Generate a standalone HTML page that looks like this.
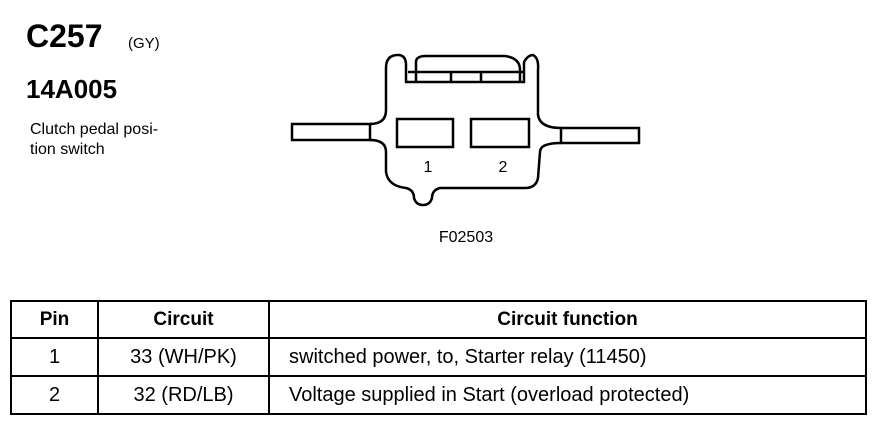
<!DOCTYPE html>
<html><head><style>
body{margin:0;background:#fff;width:872px;height:432px;overflow:hidden;position:relative;font-family:"Liberation Sans",Arial,sans-serif;color:#000}
.t{position:absolute;white-space:nowrap}
table{position:absolute;left:10px;top:300px;border-collapse:collapse;font-size:20px;table-layout:fixed;width:855px}
td{border:2px solid #000;text-align:center;height:36px;padding:0;white-space:nowrap}
th{border:2px solid #000;height:35px;font-size:19px;font-weight:bold;padding:0}
</style></head><body>
<div class="t" style="left:26px;top:18px;font-size:32px;font-weight:bold">C257</div>
<div class="t" style="left:128px;top:35px;font-size:15px">(GY)</div>
<div class="t" style="left:26px;top:74px;font-size:26px;font-weight:bold">14A005</div>
<div class="t" style="left:30px;top:120px;font-size:16px;line-height:20px">Clutch pedal posi-<br>tion switch</div>
<svg style="position:absolute;left:0;top:0" width="872" height="300">
<g fill="none" stroke="#000" stroke-width="2.5">
<rect x="292" y="124" width="78" height="16"/>
<rect x="561" y="128" width="78" height="15"/>
<path d="M370,124 Q386,124 386,110 L386,68 Q386,55 398,55 Q406,55 406,65 L406,82 L524,82 L524,62 Q528,55 533,55 Q539,58 538,70 L538,115 Q540,128 561,128 M561,143 Q540,143 540,152 L538,178 Q536,188 525,188 L440,188 Q432,190 432,198 Q430,205 423,205 Q416,205 414,198 Q414,190 406,188 Q388,186 386,172 L386,152 Q386,140 370,140"/>
<path d="M416,82 L416,62 Q416,56 426,56 L505,56 Q520,58 520,70 L520,82"/>
<path d="M408,72 L524,72 M451,72 L451,82 M481,72 L481,82"/>
<rect x="397" y="119" width="56" height="28"/>
<rect x="471" y="119" width="58" height="28"/>
</g>
<text x="428" y="172" font-size="16" text-anchor="middle" font-family="Liberation Sans">1</text>
<text x="503" y="172" font-size="16" text-anchor="middle" font-family="Liberation Sans">2</text>
<text x="466" y="242" font-size="16" text-anchor="middle" font-family="Liberation Sans">F02503</text>
</svg>
<table>
<colgroup><col style="width:87px"><col style="width:171px"><col style="width:597px"></colgroup>
<tr><th>Pin</th><th>Circuit</th><th>Circuit function</th></tr>
<tr><td>1</td><td>33 (WH/PK)</td><td style="text-align:left;padding-left:19px">switched power, to, Starter relay (11450)</td></tr>
<tr><td>2</td><td>32 (RD/LB)</td><td style="text-align:left;padding-left:19px">Voltage supplied in Start (overload protected)</td></tr>
</table>
</body></html>
